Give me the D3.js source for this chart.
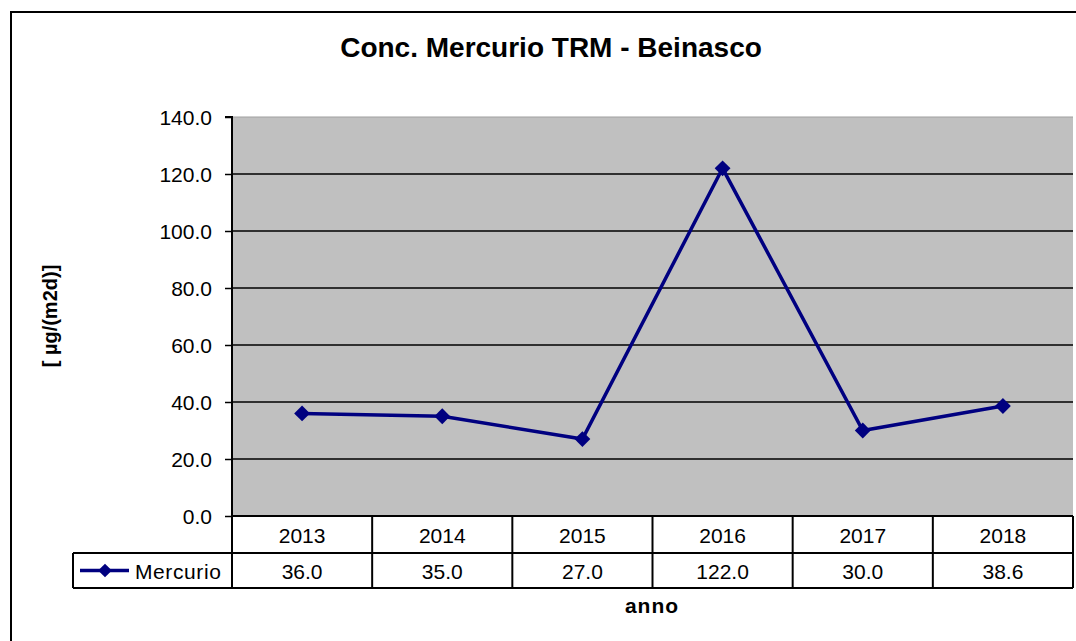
<!DOCTYPE html>
<html>
<head>
<meta charset="utf-8">
<script src="https://cdn.jsdelivr.net/npm/d3@7/dist/d3.min.js"></script>
<style>
  html, body { margin: 0; padding: 0; background: #fff; }
  svg { display: block; font-family: "Liberation Sans", Arial, sans-serif; }
</style>
</head>
<body>
<svg id="chart" width="1076" height="641"></svg>
<script>
// Annual mercury deposition, Beinasco
const years = ["2013", "2014", "2015", "2016", "2017", "2018"];
const mercurio = [36.0, 35.0, 27.0, 122.0, 30.0, 38.6];
const yTicks = [0, 20, 40, 60, 80, 100, 120, 140];
const seriesName = "Mercurio";
const chartTitle = "Conc. Mercurio TRM - Beinasco";
const xTitle = "anno";
const yTitle = "[ µg/(m2d)]";

const svg = d3.select("#chart");
const W = 1076, H = 641;

const plot = { left: 232, right: 1073, top: 117, bottom: 516 };
const rowH1 = 37, rowH2 = 35;
const legendLeft = 73;
const navy = "#000080";
const labelSize = "21px";

// frame around the whole chart
svg.append("rect")
  .attr("x", 11).attr("y", 12)
  .attr("width", W + 20).attr("height", H + 20)
  .attr("fill", "#fff").attr("stroke", "#000").attr("stroke-width", 2);

const x = d3.scaleBand().domain(years).range([plot.left, plot.right]);
const y = d3.scaleLinear().domain([0, 140]).range([plot.bottom, plot.top]);

// plot background
svg.append("rect")
  .attr("x", plot.left).attr("y", plot.top)
  .attr("width", plot.right - plot.left).attr("height", plot.bottom - plot.top)
  .attr("fill", "#c0c0c0");

// horizontal gridlines
svg.append("g").selectAll("line")
  .data(yTicks.filter(t => t > 0 && t < 140))
  .join("line")
  .attr("x1", plot.left).attr("x2", plot.right)
  .attr("y1", d => y(d)).attr("y2", d => y(d))
  .attr("stroke", "#000").attr("stroke-width", 1.5);

// top edge of the plot area
svg.append("line")
  .attr("x1", plot.left).attr("x2", plot.right)
  .attr("y1", y(140)).attr("y2", y(140))
  .attr("stroke", "#a0a0a0").attr("stroke-width", 1.2);

// y axis
const yAxis = d3.axisLeft(y)
  .tickValues(yTicks)
  .tickFormat(d3.format(".1f"))
  .tickSize(7)
  .tickPadding(13);
const gy = svg.append("g")
  .attr("transform", `translate(${plot.left},0)`)
  .call(yAxis);
gy.select(".domain").attr("stroke", "#000").attr("stroke-width", 2)
  .attr("d", `M-7,${y(140)}H0V${plot.bottom}`);
gy.selectAll(".tick line").attr("stroke", "#000").attr("stroke-width", 1.5);
gy.selectAll(".tick text")
  .attr("fill", "#000")
  .attr("dy", "0.36em")
  .style("font-size", labelSize)
  .style("font-family", "'Liberation Sans', Arial, sans-serif");

// data table under the plot
const tableTop = plot.bottom;
const row2Top = tableTop + rowH1;
const tableBottom = row2Top + rowH2;
const tbl = svg.append("g").attr("fill", "none").attr("stroke", "#000").attr("stroke-width", 2);
tbl.append("line").attr("x1", plot.left).attr("x2", plot.right)
  .attr("y1", tableTop).attr("y2", tableTop);
tbl.append("line").attr("x1", legendLeft).attr("x2", plot.right)
  .attr("y1", row2Top).attr("y2", row2Top);
tbl.append("line").attr("x1", legendLeft).attr("x2", plot.right)
  .attr("y1", tableBottom).attr("y2", tableBottom);
tbl.append("line").attr("x1", legendLeft).attr("x2", legendLeft)
  .attr("y1", row2Top).attr("y2", tableBottom);
tbl.selectAll(".vcol")
  .data(years.concat(["end"]))
  .join("line")
  .attr("class", "vcol")
  .attr("x1", (d, i) => i < years.length ? x(d) : plot.right)
  .attr("x2", (d, i) => i < years.length ? x(d) : plot.right)
  .attr("y1", (d, i) => (i === 0 ? plot.top : tableTop))
  .attr("y2", tableBottom);

svg.append("g").selectAll("text")
  .data(years)
  .join("text")
  .attr("x", d => x(d) + x.bandwidth() / 2)
  .attr("y", tableTop + rowH1 / 2 + 8)
  .attr("text-anchor", "middle")
  .style("font-size", labelSize)
  .text(d => d);

svg.append("g").selectAll("text")
  .data(mercurio)
  .join("text")
  .attr("x", (d, i) => x(years[i]) + x.bandwidth() / 2)
  .attr("y", row2Top + rowH2 / 2 + 8)
  .attr("text-anchor", "middle")
  .style("font-size", labelSize)
  .text(d => d3.format(".1f")(d));

// legend key inside the table
const keyY = row2Top + rowH2 / 2;
svg.append("line")
  .attr("x1", legendLeft + 7).attr("x2", legendLeft + 56)
  .attr("y1", keyY).attr("y2", keyY)
  .attr("stroke", navy).attr("stroke-width", 3.5);
svg.append("path")
  .attr("d", d3.symbol(d3.symbolDiamond2, 120)())
  .attr("transform", `translate(${legendLeft + 32},${keyY})`)
  .attr("fill", navy);
svg.append("text")
  .attr("x", legendLeft + 62).attr("y", keyY + 8)
  .style("font-size", labelSize)
  .style("letter-spacing", "0.6px")
  .text(seriesName);

// series line
const line = d3.line()
  .x((d, i) => x(years[i]) + x.bandwidth() / 2)
  .y(d => y(d));
svg.append("path")
  .datum(mercurio)
  .attr("d", line)
  .attr("fill", "none")
  .attr("stroke", navy)
  .attr("stroke-width", 3.5)
  .attr("stroke-linejoin", "miter");

svg.append("g").selectAll("path")
  .data(mercurio)
  .join("path")
  .attr("d", d3.symbol(d3.symbolDiamond2, 160)())
  .attr("transform", (d, i) => `translate(${x(years[i]) + x.bandwidth() / 2},${y(d)})`)
  .attr("fill", navy);

// titles
svg.append("text")
  .attr("x", 551).attr("y", 57)
  .attr("text-anchor", "middle")
  .style("font-size", "28px").style("font-weight", "bold")
  .text(chartTitle);

svg.append("text")
  .attr("x", 652).attr("y", 613)
  .attr("text-anchor", "middle")
  .style("font-size", "21px").style("font-weight", "bold")
  .style("letter-spacing", "1px")
  .text(xTitle);

svg.append("text")
  .attr("transform", `translate(57,316) rotate(-90)`)
  .attr("text-anchor", "middle")
  .style("font-size", "20px").style("font-weight", "bold")
  .text(yTitle);
</script>
</body>
</html>
